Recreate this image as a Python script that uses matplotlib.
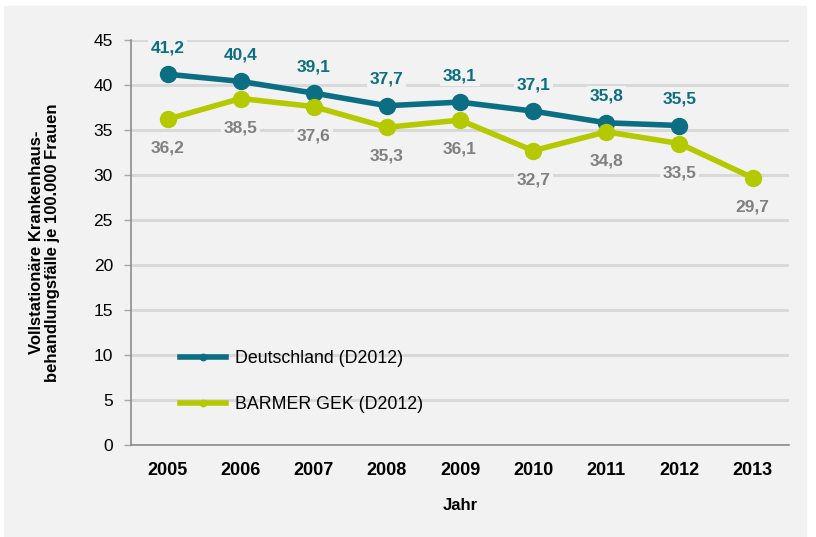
import matplotlib.pyplot as plt
from matplotlib.patches import Rectangle

plt.rcParams['font.family'] = ['Liberation Sans', 'DejaVu Sans']

years = ['2005', '2006', '2007', '2008', '2009', '2010', '2011', '2012', '2013']
deutschland = [41.2, 40.4, 39.1, 37.7, 38.1, 37.1, 35.8, 35.5]
barmer = [36.2, 38.5, 37.6, 35.3, 36.1, 32.7, 34.8, 33.5, 29.7]

teal = '#0b6e82'
green = '#b5c900'
bg = '#f2f2f2'

fig = plt.figure(figsize=(8.16, 5.37), dpi=100)
fig.patch.set_facecolor('white')
fig.patches.append(Rectangle((4 / 816, 0), 802 / 816, 531 / 537,
                             transform=fig.transFigure, color=bg, zorder=-10))
ax = fig.add_axes([0.1605, 0.1713, 0.8065, 0.7542])
ax.set_facecolor(bg)

x_d = list(range(len(deutschland)))
x_b = list(range(len(barmer)))
ax.plot(x_d, deutschland, color=teal, lw=4, marker='o', ms=11.5, zorder=3,
        label='Deutschland (D2012)')
ax.plot(x_b, barmer, color=green, lw=4, marker='o', ms=11.5, zorder=3,
        label='BARMER GEK (D2012)')

for x, v in zip(x_d, deutschland):
    ax.annotate(f'{v:.1f}'.replace('.', ','), (x, v), xytext=(0, 19),
                textcoords='offset points', ha='center', va='center',
                color=teal, fontsize=12.5, fontweight='bold', zorder=4,
                bbox=dict(boxstyle='square,pad=0.15', fc=bg, ec='none'))
for x, v in zip(x_b, barmer):
    ax.annotate(f'{v:.1f}'.replace('.', ','), (x, v), xytext=(0, -21),
                textcoords='offset points', ha='center', va='center',
                color='#808080', fontsize=12.5, fontweight='bold', zorder=4,
                bbox=dict(boxstyle='square,pad=0.15', fc=bg, ec='none'))

ax.set_xlim(-0.5, len(years) - 0.5)
ax.set_ylim(0, 45)
ax.set_yticks(range(0, 46, 5))
ax.set_xticks(x_b)
ax.set_xticklabels(years, fontweight='bold', fontsize=13)
ax.tick_params(axis='y', labelsize=12.5, length=5, color='#a6a6a6', width=1, pad=8)
ax.tick_params(axis='x', length=0, pad=12)
ax.yaxis.grid(True, color='#d9d9d9', lw=2.2)
ax.set_axisbelow(True)
for s in ['top', 'right']:
    ax.spines[s].set_visible(False)
for s in ['left', 'bottom']:
    ax.spines[s].set_color('#8c8c8c')
    ax.spines[s].set_linewidth(1.2)
    ax.spines[s].set_zorder(2.5)

ax.set_xlabel('Jahr', fontweight='bold', fontsize=12, labelpad=14)
ax.set_ylabel('Vollstationäre Krankenhaus-\nbehandlungsfälle je 100.000 Frauen',
              fontweight='bold', fontsize=12, labelpad=24, linespacing=1.1)

leg = ax.legend(loc='lower left', bbox_to_anchor=(0.05, 0.04), frameon=False,
                fontsize=12.8, handlelength=2.6, labelspacing=1.6, markerscale=0.4,
                handletextpad=0.5)

fig.savefig('out.png', dpi=100, facecolor=fig.get_facecolor())
